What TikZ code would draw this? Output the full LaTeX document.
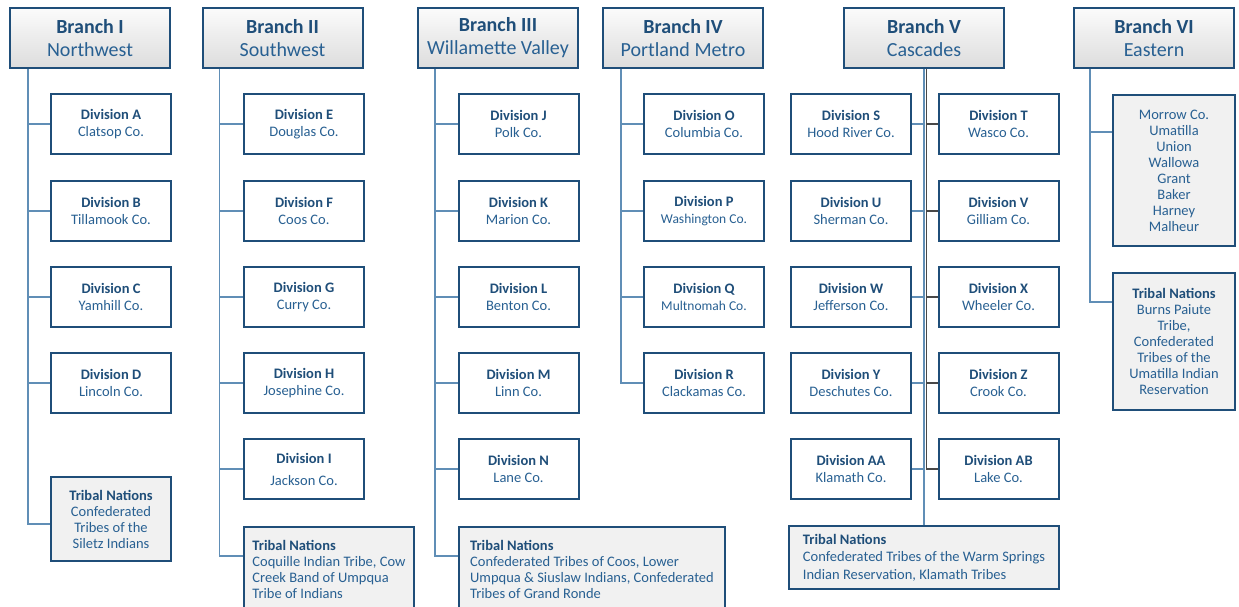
\documentclass[tikz,border=0pt]{standalone}
\usepackage{fontspec}
\setmainfont{Carlito}
\usetikzlibrary{positioning}

\definecolor{bordblue}{RGB}{31,78,121}
\definecolor{txtblue}{RGB}{40,96,146}
\definecolor{lineblue}{RGB}{96,142,182}
\definecolor{darkline}{RGB}{72,72,72}
\newcommand{\divtitle}[1]{\textbf{\color{bordblue}#1}}
\newcommand{\smallco}{\fontsize{13.5}{17}\selectfont}

\begin{document}
\begin{tikzpicture}[x=1pt,y=-1pt,
    branch/.style={draw=bordblue,line width=2pt,top color=gray!3,bottom color=gray!27,
        minimum width=160pt,minimum height=60pt,align=center,text=txtblue,
        font=\fontsize{20}{23}\selectfont},
    division/.style={draw=bordblue,line width=2pt,fill=white,minimum width=120pt,
        minimum height=60pt,align=center,text=txtblue,font=\fontsize{14.5}{17}\selectfont},
    tribal/.style={division,fill=gray!11,font=\fontsize{14.5}{16}\selectfont},
    conn/.style={draw=lineblue,line width=1.3pt},
    darkconn/.style={draw=darkline,line width=1.3pt}]
    \useasboundingbox (0,0) rectangle (1239,607);

    % Branches
    \node[branch] (b1) at (90,38) {\divtitle{Branch I}\\Northwest};
    \node[branch] (b2) at (282.5,38) {\divtitle{Branch II}\\Southwest};
    \node[branch] (b3) at (498,38) {\divtitle{Branch III}\\Willamette Valley};
    \node[branch] (b4) at (683,38) {\divtitle{Branch IV}\\Portland Metro};
    \node[branch] (b5) at (924,38) {\divtitle{Branch V}\\Cascades};
    \node[branch] (b6) at (1154,38) {\divtitle{Branch VI}\\Eastern};

    % Divisions
    \foreach \n/\c/\y in {A/Clatsop Co./124,B/Tillamook Co./211,C/Yamhill Co./297,D/Lincoln Co./383} {
        \node[division] (d\n) at (111,\y) {\divtitle{Division \n}\\\c};
    }
    \foreach \n/\c/\y in {E/Douglas Co./124,F/Coos Co./211,G/Curry Co./297,H/Josephine Co./383} {
        \node[division] (d\n) at (304,\y) {\divtitle{Division \n}\\\c};
    }
    \node[division] (dI) at (304,469) {\divtitle{Division I}\\[5pt]Jackson Co.};
    \foreach \n/\c/\y in {J/Polk Co./124,K/Marion Co./211,L/Benton Co./297,M/Linn Co./383,N/Lane Co./469} {
        \node[division] (d\n) at (518.5,\y) {\divtitle{Division \n}\\\c};
    }
    \foreach \n/\c/\y in {O/Columbia Co./124,P/{\smallco Washington Co.}/211,Q/{\smallco Multnomah Co.}/297,R/Clackamas Co./383} {
        \node[division] (d\n) at (704,\y) {\divtitle{Division \n}\\\c};
    }
    \foreach \n/\c/\y in {S/Hood River Co./124,U/Sherman Co./211,W/Jefferson Co./297,Y/Deschutes Co./383,AA/Klamath Co./469} {
        \node[division] (d\n) at (851,\y) {\divtitle{Division \n}\\\c};
    }
    \foreach \n/\c/\y in {T/Wasco Co./124,V/Gilliam Co./211,X/Wheeler Co./297,Z/Crook Co./383,AB/Lake Co./469} {
        \node[division] (d\n) at (998.5,\y) {\divtitle{Division \n}\\\c};
    }

    % Eastern counties
    \node[tribal,minimum width=122pt,minimum height=151pt] (v1) at (1174,170.5)
        {Morrow Co.\\Umatilla\\Union\\Wallowa\\Grant\\Baker\\Harney\\Malheur};

    % Tribal nations
    \node[tribal,minimum width=120pt,minimum height=84pt] (t1) at (111,519)
        {\divtitle{Tribal Nations}\\Confederated\\Tribes of the\\Siletz Indians};
    \node[tribal,anchor=north west,align=left,minimum width=170pt,minimum height=84pt] (t2) at (243,526)
        {\divtitle{Tribal Nations}\\Coquille Indian Tribe, Cow\\Creek Band of Umpqua\\Tribe of Indians};
    \node[tribal,anchor=north west,align=left,minimum width=266pt,minimum height=84pt] (t3) at (458,526)
        {\divtitle{Tribal Nations}\\Confederated Tribes of Coos, Lower\\Umpqua \& Siuslaw Indians, Confederated\\Tribes of Grand Ronde};
    \node[tribal,align=left,minimum width=270pt,minimum height=63pt,font=\fontsize{14.5}{17.5}\selectfont] (t5) at (924,557.5)
        {\divtitle{Tribal Nations}\\Confederated Tribes of the Warm Springs\\Indian Reservation, Klamath Tribes};
    \node[tribal,minimum width=122pt,minimum height=137pt] (t6) at (1174,341.5)
        {\divtitle{Tribal Nations}\\Burns Paiute\\Tribe,\\Confederated\\Tribes of the\\Umatilla Indian\\Reservation};

    % Connectors
    \coordinate (r1) at ([xshift=19pt]b1.south west);
    \draw[conn] (r1) |- ([yshift=-48pt]t1.north west);
    \foreach \n in {A,B,C,D} {
        \draw[conn] (r1 |- d\n.west) -- (d\n.west);
    }

    \coordinate (r2) at ([xshift=18pt]b2.south west);
    \draw[conn] (r2) |- ([yshift=-30pt]t2.north west);
    \foreach \n in {E,F,G,H,I} {
        \draw[conn] (r2 |- d\n.west) -- (d\n.west);
    }

    \coordinate (r3) at ([xshift=18pt]b3.south west);
    \draw[conn] (r3) |- ([yshift=-30pt]t3.north west);
    \foreach \n in {J,K,L,M,N} {
        \draw[conn] (r3 |- d\n.west) -- (d\n.west);
    }

    \coordinate (r4) at ([xshift=19pt]b4.south west);
    \draw[conn] (r4) |- (dR.west);
    \foreach \n in {O,P,Q} {
        \draw[conn] (r4 |- d\n.west) -- (d\n.west);
    }

    \coordinate (r5) at ([xshift=2.4pt]b5.south);
    \draw[conn] (b5.south) -- (t5.north);
    \draw[darkconn] (r5) -- (r5 |- dAB.west);
    \foreach \n in {S,U,W,Y,AA} {
        \draw[conn] (d\n.east) -- (b5.south |- d\n.east);
    }
    \foreach \n in {T,V,X,Z,AB} {
        \draw[darkconn] (r5 |- d\n.west) -- (d\n.west);
    }

    \coordinate (r6) at ([xshift=17pt]b6.south west);
    \coordinate (e1) at ([yshift=-38pt]v1.north west);
    \draw[conn] (r6) |- ([yshift=-30pt]t6.north west);
    \draw[conn] (r6 |- e1) -- (e1);
\end{tikzpicture}
\end{document}
